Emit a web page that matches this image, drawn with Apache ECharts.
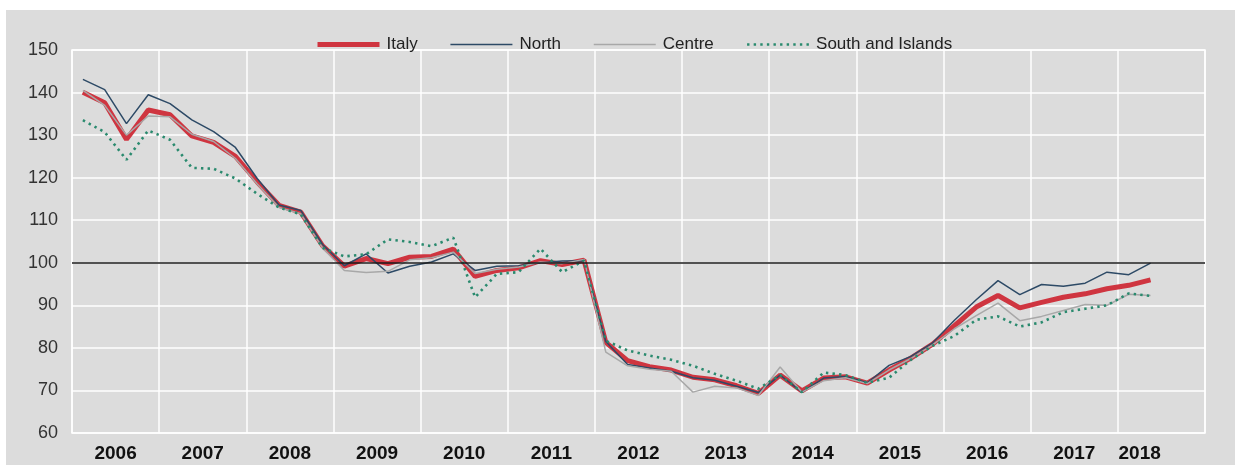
<!DOCTYPE html>
<html>
<head>
<meta charset="utf-8">
<script src="https://cdn.jsdelivr.net/npm/echarts@6/dist/echarts.min.js"></script>
<style>
  html, body { margin: 0; padding: 0; background: #ffffff; }
  #chart { position: absolute; left: 6px; top: 10px; width: 1229px; height: 455px; }
</style>
</head>
<body>
<div id="chart"></div>
<script>
// ---- Data (quarterly index, 2011 = 100), 2006 Q1 - 2018 Q2 ----
var years = ['2006','2007','2008','2009','2010','2011','2012','2013','2014','2015','2016','2017','2018'];
var quarters = ['Q1','Q2','Q3','Q4'];

var italy = [140.1, 137.6, 129.0, 135.9, 134.8, 129.8, 128.3, 125.0, 119.0, 113.5, 111.9, 104.0,
             99.2, 101.0, 99.8, 101.3, 101.5, 103.2, 96.8, 98.2, 98.8, 100.5, 99.6, 100.6,
             81.3, 77.0, 75.6, 74.8, 73.1, 72.5, 71.1, 69.3, 73.6, 69.9, 72.9, 73.2,
             71.7, 74.8, 77.6, 80.9, 85.2, 89.6, 92.3, 89.4, 90.7, 91.9, 92.7, 93.9,
             94.7, 96.0];
var north = [143.1, 140.7, 132.7, 139.5, 137.4, 133.6, 130.8, 127.1, 119.8, 113.6, 112.3, 104.3,
             99.3, 102.1, 97.6, 99.2, 100.2, 102.1, 98.2, 99.2, 99.3, 100.0, 100.4, 100.5,
             81.5, 76.1, 75.3, 74.5, 73.0, 72.4, 71.0, 69.5, 73.6, 69.6, 72.9, 73.3,
             71.8, 75.9, 78.0, 81.2, 86.5, 91.3, 95.8, 92.5, 94.9, 94.5, 95.2, 97.8,
             97.2, 99.9];
var centre = [140.5, 137.0, 130.0, 134.5, 134.3, 130.2, 128.5, 124.5, 118.5, 113.0, 111.5, 103.5,
              98.2, 97.7, 98.0, 100.7, 101.2, 102.5, 97.5, 98.5, 99.0, 100.2, 99.8, 100.8,
              79.0, 75.8, 75.0, 74.5, 69.6, 71.0, 70.6, 68.8, 75.5, 69.6, 72.3, 73.0,
              71.6, 74.8, 77.5, 80.7, 84.5, 87.6, 90.5, 86.4, 87.4, 88.8, 90.2, 90.0,
              92.6, 92.3];
var south = [133.5, 130.7, 124.2, 131.1, 128.9, 122.3, 122.1, 119.8, 116.2, 113.0, 111.4, 103.5,
             101.5, 102.0, 105.5, 104.9, 103.9, 105.9, 91.9, 97.4, 97.8, 103.3, 97.8, 100.5,
             81.7, 79.4, 78.2, 77.2, 75.8, 73.9, 72.3, 70.4, 73.6, 69.6, 74.2, 73.6,
             71.8, 73.0, 77.2, 80.5, 82.8, 86.6, 87.4, 85.0, 86.0, 88.4, 89.2, 90.0,
             92.8, 92.2];

var yTicks = { min: 60, max: 150, step: 10 };
var seriesNames = ['Italy', 'North', 'Centre', 'South and Islands'];
var lastIndex = italy.length - 1; // last quarter with data

// categories: every quarter of every year
var categories = [];
years.forEach(function (y) { quarters.forEach(function (q) { categories.push(y + ' ' + q); }); });

var FONT = "'Liberation Sans', Arial, sans-serif";
var plotWidth = 1229 - 66 - 30;
var catW = plotWidth / categories.length;

var styles = {
  'Italy': { color: '#cf3540', width: 5, type: 'solid' },
  'North': { color: '#2d4a66', width: 1.5, type: 'solid' },
  'Centre': { color: '#a8a8a8', width: 1.5, type: 'solid' },
  'South and Islands': { color: '#2a8a6e', width: 2.6, type: [2.4, 4.2] }
};

var chart = echarts.init(document.getElementById('chart'), null, { renderer: 'canvas' });

// label at the middle of each year's quarters
function showYearLabel(idx) {
  var lastYearStart = Math.floor(lastIndex / 4) * 4;
  var lastYearCount = lastIndex - lastYearStart + 1;
  if (idx >= lastYearStart) {
    return idx === lastYearStart + Math.floor(lastYearCount / 2) - 1;
  }
  return idx % 4 === 1;
}

chart.setOption({
  backgroundColor: '#dcdcdc',
  animation: false,
  grid: {
    left: 66, right: 30, top: 40, bottom: 32,
    show: true, borderColor: '#ffffff', borderWidth: 1.5, backgroundColor: 'transparent'
  },
  legend: {
    data: seriesNames.map(function (n) {
      return { name: n, lineStyle: { width: styles[n].width, type: styles[n].type, color: styles[n].color } };
    }),
    left: 304, top: 21,
    itemWidth: 62, itemHeight: 14, itemGap: 32,
    itemStyle: { opacity: 0 },
    textStyle: { fontFamily: FONT, fontSize: 17, color: '#222', padding: [0, 0, 0, 2] }
  },
  xAxis: {
    type: 'category',
    data: categories,
    boundaryGap: true,
    axisLine: { show: false },
    axisTick: { show: false },
    splitLine: {
      show: true,
      interval: function (idx) { return idx % 4 === 0; },
      lineStyle: { color: '#ffffff', width: 1.5 }
    },
    axisLabel: {
      interval: function (idx) { return showYearLabel(idx); },
      formatter: function (v) { return v.slice(0, 4); },
      fontFamily: FONT, fontSize: 19, fontWeight: 'bold', color: '#111',
      margin: 11,
      padding: [0, 0, 0, catW]
    }
  },
  yAxis: {
    type: 'value',
    min: yTicks.min, max: yTicks.max, interval: yTicks.step,
    axisLine: { show: false },
    axisTick: { show: false },
    splitLine: { show: true, lineStyle: { color: '#ffffff', width: 1.5 } },
    axisLabel: { fontFamily: FONT, fontSize: 18, color: '#333', margin: 14 }
  },
  series: [
    {
      name: 'Italy', type: 'line', data: italy, symbol: 'none',
      lineStyle: styles['Italy'],
      itemStyle: { color: styles['Italy'].color },
      markLine: {
        silent: true, symbol: ['none', 'none'], label: { show: false },
        lineStyle: { color: '#1a1a1a', width: 1.5, type: 'solid' },
        data: [{ yAxis: 100 }]
      }
    },
    {
      name: 'North', type: 'line', data: north, symbol: 'none',
      lineStyle: styles['North'],
      itemStyle: { color: styles['North'].color }
    },
    {
      name: 'Centre', type: 'line', data: centre, symbol: 'none',
      lineStyle: styles['Centre'],
      itemStyle: { color: styles['Centre'].color }
    },
    {
      name: 'South and Islands', type: 'line', data: south, symbol: 'none',
      lineStyle: styles['South and Islands'],
      itemStyle: { color: styles['South and Islands'].color }
    }
  ]
});
</script>
</body>
</html>
